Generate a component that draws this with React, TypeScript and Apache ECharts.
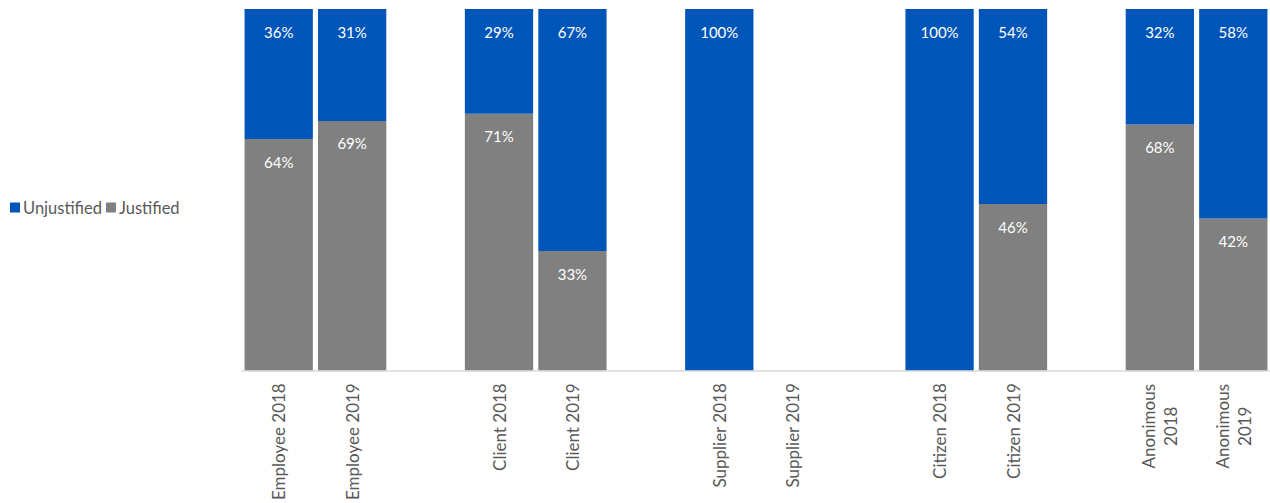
import React, { useEffect, useRef } from "react";
import * as echarts from "echarts";

const categories = [
  "Employee 2018", "Employee 2019", "",
  "Client 2018", "Client 2019", " ",
  "Supplier 2018", "Supplier 2019", "  ",
  "Citizen 2018", "Citizen 2019", "   ",
  "Anonimous\n2018", "Anonimous\n2019",
];
const justified: (number | string)[] = [64, 69, "-", 71, 33, "-", 0, "-", "-", 0, 46, "-", 68, 42];
const unjustified: (number | string)[] = [36, 31, "-", 29, 67, "-", 100, "-", "-", 100, 54, "-", 32, 58];

const FONT = "Lato";

export default function App() {
  const ref = useRef<HTMLDivElement>(null);
  useEffect(() => {
    const chart = echarts.init(ref.current!, null, { renderer: "svg" });
    const label = {
      show: true,
      position: "insideTop" as const,
      distance: 15,
      color: "#ffffff",
      fontFamily: FONT,
      fontSize: 15,
      formatter: (p: any) => (p.value ? p.value + "%" : ""),
    };
    chart.setOption({
      animation: false,
      textStyle: { fontFamily: FONT },
      legend: {
        data: ["Unjustified", "Justified"],
        left: 5,
        top: 194,
        icon: "rect",
        itemWidth: 10,
        itemHeight: 10,
        itemGap: 4,
        textStyle: { color: "#595959", fontSize: 16.5, fontFamily: FONT, padding: [0, 0, 0, -2] },
      },
      grid: { left: 242, right: 0, top: 9, bottom: 132 },
      xAxis: {
        type: "category",
        data: categories,
        axisLine: { lineStyle: { color: "#d9d9d9", width: 1.5 } },
        axisTick: { show: false },
        axisLabel: {
          rotate: 90,
          interval: 0,
          margin: 13,
          color: "#595959",
          fontSize: 17,
          fontFamily: FONT,
          formatter: (v: string) => {
            if (v.indexOf("\n") >= 0) {
              const [a, b] = v.split("\n");
              return "{c|" + a + "}\n{c|" + b + "}";
            }
            return v;
          },
          rich: {
            c: { width: 86, align: "center", color: "#595959", fontSize: 17, fontFamily: FONT, lineHeight: 22 },
          },
        },
      },
      yAxis: {
        type: "value",
        min: 0,
        max: 100,
        show: false,
        splitLine: { show: false },
      },
      series: [
        {
          name: "Justified",
          type: "bar",
          stack: "total",
          data: justified,
          barCategoryGap: "7%",
          itemStyle: { color: "#808080" },
          label,
        },
        {
          name: "Unjustified",
          type: "bar",
          stack: "total",
          data: unjustified,
          barCategoryGap: "7%",
          itemStyle: { color: "#0055b8" },
          label,
        },
      ],
    });
    return () => chart.dispose();
  }, []);
  return <div ref={ref} style={{ width: 1270, height: 503, position: "absolute", left: 0, top: 0 }} />;
}
